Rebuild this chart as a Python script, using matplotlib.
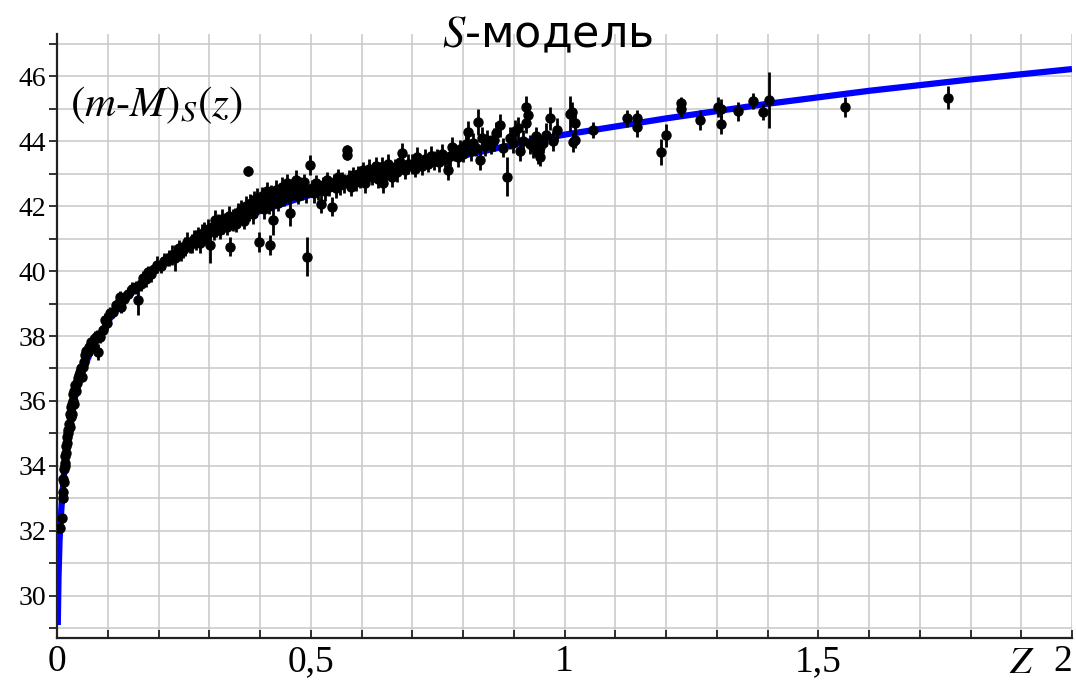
import matplotlib
matplotlib.use("Agg")
import matplotlib.pyplot as plt
import numpy as np

plt.rcParams["mathtext.fontset"] = "stix"

# model curve
curve_z = [0.0015, 0.003, 0.005, 0.007, 0.010, 0.014, 0.020, 0.027, 0.035, 0.050,
           0.070, 0.100, 0.130, 0.180, 0.240, 0.300, 0.350, 0.400, 0.450, 0.500,
           0.600, 0.700, 0.800, 0.900, 1.000, 1.200, 1.400, 1.600, 1.800, 2.000]
curve_mu = [29.1, 30.6, 31.7, 32.3, 33.0, 33.8, 34.7, 35.4, 36.1, 36.9,
            37.65, 38.45, 39.05, 39.85, 40.6, 41.15, 41.5, 41.85, 42.1, 42.35,
            42.8, 43.2, 43.55, 43.9, 44.2, 44.7, 45.15, 45.55, 45.9, 46.22]

# supernovae, low z
z_low = [0.006, 0.009, 0.011, 0.012, 0.012, 0.013, 0.014, 0.015, 0.016, 0.016,
         0.017, 0.018, 0.019, 0.020, 0.021, 0.022, 0.024, 0.025, 0.026, 0.027,
         0.028, 0.029, 0.030, 0.031, 0.032, 0.033, 0.034, 0.036, 0.037, 0.039,
         0.041, 0.043, 0.045, 0.047, 0.049, 0.051, 0.053, 0.056, 0.058, 0.061,
         0.064, 0.067, 0.071, 0.075, 0.079, 0.081, 0.085, 0.091, 0.095, 0.099]
mu_low = [32.1, 32.4, 33.0, 33.2, 33.6, 33.5, 33.9, 34.0, 34.3, 34.1,
          34.4, 34.6, 34.9, 34.7, 35.0, 35.1, 35.3, 35.2, 35.6, 35.5,
          35.8, 35.6, 35.9, 36.0, 36.2, 35.9, 36.3, 36.5, 36.3, 36.55,
          36.7, 36.8, 36.9, 37.0, 36.75, 37.05, 37.2, 37.4, 37.55, 37.5,
          37.65, 37.8, 37.75, 37.95, 38.0, 37.5, 37.97, 38.2, 38.5, 38.4]
err_low = [0.15, 0.15, 0.15, 0.15, 0.15, 0.15, 0.15, 0.15, 0.15, 0.15,
           0.15, 0.15, 0.15, 0.15, 0.15, 0.15, 0.15, 0.15, 0.15, 0.15,
           0.15, 0.15, 0.15, 0.15, 0.15, 0.15, 0.15, 0.15, 0.15, 0.15,
           0.15, 0.15, 0.15, 0.15, 0.15, 0.15, 0.15, 0.2, 0.15, 0.2,
           0.2, 0.2, 0.2, 0.2, 0.2, 0.25, 0.2, 0.2, 0.2, 0.2]

# 0.1 < z < 0.3
z_b = [0.104, 0.110, 0.116, 0.124, 0.127, 0.133, 0.140, 0.148, 0.155, 0.160,
       0.165, 0.170, 0.176, 0.180, 0.186, 0.192, 0.198, 0.204, 0.210, 0.216,
       0.221, 0.226, 0.232, 0.236, 0.240, 0.245, 0.249, 0.253, 0.257, 0.262,
       0.266, 0.270, 0.274, 0.278, 0.282, 0.286, 0.290, 0.294, 0.297, 0.301]
mu_b = [38.7, 38.75, 38.95, 39.2, 38.9, 39.15, 39.3, 39.45, 39.5, 39.1,
        39.6, 39.8, 39.75, 39.97, 39.9, 40.05, 40.2, 40.15, 40.3, 40.35,
        40.4, 40.5, 40.4, 40.55, 40.7, 40.6, 40.65, 40.75, 40.9, 40.8,
        40.85, 41.0, 40.95, 41.1, 40.86, 41.15, 41.2, 41.05, 41.3, 40.8]
err_b = [0.2, 0.2, 0.2, 0.2, 0.2, 0.2, 0.2, 0.2, 0.2, 0.45,
         0.2, 0.2, 0.25, 0.2, 0.25, 0.2, 0.25, 0.2, 0.25, 0.2,
         0.25, 0.3, 0.4, 0.25, 0.25, 0.3, 0.25, 0.3, 0.3, 0.25,
         0.3, 0.25, 0.3, 0.25, 0.3, 0.3, 0.3, 0.25, 0.3, 0.55]

# 0.3 < z < 0.5
z_c = [0.305, 0.309, 0.311, 0.314, 0.318, 0.321, 0.325, 0.328, 0.331, 0.335,
       0.338, 0.341, 0.344, 0.347, 0.350, 0.353, 0.356, 0.359, 0.362, 0.366,
       0.369, 0.372, 0.376, 0.379, 0.380, 0.383, 0.386, 0.389, 0.392, 0.395,
       0.398, 0.401, 0.404, 0.408, 0.411, 0.414, 0.418, 0.420, 0.422, 0.426,
       0.429, 0.432, 0.436, 0.440, 0.443, 0.447, 0.450, 0.454, 0.457, 0.459,
       0.462, 0.466, 0.470, 0.474, 0.478, 0.482, 0.486, 0.490, 0.493, 0.499]
mu_c = [41.35, 41.2, 41.57, 41.3, 41.45, 41.25, 41.6, 41.4, 41.5, 41.35,
        41.7, 40.75, 41.55, 41.57, 41.65, 41.45, 41.8, 41.6, 41.9, 41.7,
        41.55, 42.0, 43.09, 41.85, 42.08, 42.1, 41.75, 42.2, 41.95, 42.25,
        40.9, 42.05, 42.3, 41.9, 42.15, 42.45, 42.0, 40.8, 42.35, 41.57,
        42.2, 42.5, 42.1, 42.35, 42.6, 42.25, 42.4, 42.7, 42.3, 41.78,
        42.55, 42.45, 42.8, 42.3, 42.6, 42.5, 42.75, 42.4, 40.44, 43.26]
err_c = [0.25, 0.25, 0.3, 0.25, 0.3, 0.25, 0.3, 0.25, 0.3, 0.25,
         0.3, 0.3, 0.25, 0.35, 0.3, 0.25, 0.3, 0.25, 0.3, 0.3,
         0.25, 0.3, 0.15, 0.3, 0.3, 0.25, 0.3, 0.25, 0.3, 0.3,
         0.3, 0.25, 0.3, 0.3, 0.25, 0.3, 0.25, 0.3, 0.3, 0.45,
         0.25, 0.3, 0.25, 0.3, 0.3, 0.25, 0.3, 0.3, 0.25, 0.4,
         0.3, 0.25, 0.3, 0.25, 0.3, 0.3, 0.25, 0.3, 0.6, 0.3]

# 0.5 < z < 0.7
z_d = [0.503, 0.507, 0.511, 0.515, 0.520, 0.524, 0.528, 0.532, 0.536, 0.541,
       0.545, 0.549, 0.553, 0.558, 0.562, 0.566, 0.571, 0.571, 0.575, 0.580,
       0.584, 0.589, 0.593, 0.597, 0.602, 0.606, 0.611, 0.615, 0.620, 0.624,
       0.628, 0.632, 0.636, 0.640, 0.643, 0.648, 0.652, 0.657, 0.661, 0.666,
       0.670, 0.675, 0.679, 0.685, 0.692]
mu_d = [42.55, 42.4, 42.7, 42.5, 42.08, 42.65, 42.45, 42.8, 42.6, 41.98,
        42.75, 42.55, 42.9, 42.65, 42.8, 42.7, 43.72, 43.57, 42.85, 42.6,
        42.95, 42.75, 43.0, 42.85, 43.1, 42.7, 42.95, 43.15, 42.9, 43.05,
        43.25, 42.85, 43.1, 43.2, 42.7, 43.0, 43.3, 43.1, 42.9, 43.2,
        43.05, 43.35, 43.63, 43.1, 43.3]
err_d = [0.25, 0.3, 0.25, 0.3, 0.3, 0.25, 0.3, 0.25, 0.3, 0.3,
         0.25, 0.3, 0.25, 0.3, 0.25, 0.3, 0.15, 0.15, 0.25, 0.3,
         0.25, 0.3, 0.25, 0.3, 0.25, 0.3, 0.25, 0.3, 0.25, 0.3,
         0.25, 0.3, 0.25, 0.3, 0.3, 0.25, 0.3, 0.25, 0.3, 0.25,
         0.3, 0.25, 0.3, 0.25, 0.3]

# 0.7 < z < 0.85
z_e = [0.700, 0.705, 0.709, 0.714, 0.720, 0.725, 0.731, 0.736, 0.742, 0.748,
       0.753, 0.759, 0.764, 0.770, 0.775, 0.778, 0.784, 0.790, 0.795, 0.800,
       0.806, 0.810, 0.815, 0.820, 0.825, 0.830, 0.833, 0.838, 0.843, 0.848]
mu_e = [43.3, 43.15, 43.52, 43.35, 43.25, 43.45, 43.3, 43.55, 43.4, 43.5,
        43.35, 43.6, 43.45, 43.1, 43.55, 43.83, 43.65, 43.5, 43.75, 43.6,
        43.9, 44.28, 43.7, 43.95, 43.8, 44.59, 43.42, 44.1, 43.85, 44.05]
err_e = [0.3, 0.25, 0.3, 0.25, 0.3, 0.3, 0.25, 0.3, 0.3, 0.25,
         0.3, 0.3, 0.25, 0.3, 0.3, 0.3, 0.25, 0.3, 0.3, 0.25,
         0.3, 0.35, 0.3, 0.3, 0.25, 0.4, 0.3, 0.35, 0.3, 0.3]

# 0.85 < z < 1.06
z_f = [0.855, 0.861, 0.866, 0.873, 0.879, 0.886, 0.892, 0.898, 0.903, 0.908,
       0.913, 0.918, 0.925, 0.925, 0.928, 0.933, 0.938, 0.943, 0.948, 0.952,
       0.952, 0.958, 0.963, 0.971, 0.978, 0.985, 1.010, 1.014, 1.017, 1.021,
       1.021, 1.057]
mu_f = [43.9, 44.05, 44.24, 44.49, 43.8, 42.9, 44.1, 43.95, 44.3, 44.4,
        43.7, 44.0, 45.05, 44.55, 44.8, 43.9, 43.83, 44.15, 43.65, 43.52,
        43.83, 43.93, 44.2, 44.7, 44.0, 44.35, 44.85, 44.9, 43.98, 44.55,
        44.03, 44.34]
err_f = [0.3, 0.35, 0.35, 0.35, 0.3, 0.6, 0.35, 0.3, 0.35, 0.35,
         0.3, 0.35, 0.35, 0.3, 0.35, 0.3, 0.35, 0.3, 0.35, 0.3,
         0.35, 0.3, 0.35, 0.35, 0.3, 0.35, 0.55, 0.3, 0.3, 0.3,
         0.25, 0.25]

# high z
z_g = [1.123, 1.142, 1.142, 1.190, 1.200, 1.230, 1.230, 1.267, 1.302, 1.308,
       1.308, 1.341, 1.371, 1.391, 1.402, 1.552, 1.756]
mu_g = [44.7, 44.7, 44.44, 43.67, 44.18, 45.16, 45.0, 44.65, 45.05, 44.52,
        45.0, 44.92, 45.23, 44.9, 45.27, 45.05, 45.34]
err_g = [0.25, 0.25, 0.3, 0.4, 0.35, 0.2, 0.25, 0.3, 0.3, 0.3,
         0.3, 0.3, 0.25, 0.25, 0.85, 0.3, 0.35]

sn_z = z_low + z_b + z_c + z_d + z_e + z_f + z_g
sn_mu = mu_low + mu_b + mu_c + mu_d + mu_e + mu_f + mu_g
sn_err = err_low + err_b + err_c + err_d + err_e + err_f + err_g

x_ticks = [0, 0.5, 1, 1.5, 2]
x_labels = ["0", "0,5", "1", "1,5", "2"]
y_ticks = [30, 32, 34, 36, 38, 40, 42, 44, 46]

fig = plt.figure(figsize=(10.76, 6.84), dpi=100)
ax = fig.add_axes([57 / 1076, 46 / 684, (1072 - 57) / 1076, (650 - 46) / 684])

ax.plot(curve_z, curve_mu, color="#0000ff", lw=4.5, zorder=2, solid_capstyle="butt")
ax.errorbar(sn_z, sn_mu, yerr=sn_err, fmt="o", color="black", ms=6.5,
            elinewidth=2.0, capsize=0, zorder=3)

ax.set_xlim(0, 2)
ax.set_ylim(28.7, 47.3)
ax.set_xticks(x_ticks)
ax.set_xticklabels(x_labels)
ax.set_xticks(np.arange(0, 2.01, 0.1), minor=True)
ax.set_yticks(y_ticks)
ax.set_yticks(np.arange(29, 48, 1), minor=True)

ax.grid(True, which="both", color="#c8c8c8", lw=1.1)
ax.set_axisbelow(True)

for s in ["top", "right"]:
    ax.spines[s].set_visible(False)
for s in ["left", "bottom"]:
    ax.spines[s].set_color("#222222")
    ax.spines[s].set_linewidth(1.6)

ax.tick_params(axis="y", which="both", direction="out", length=6, width=1.3,
               color="#222222", labelsize=20, pad=2)
ax.tick_params(axis="x", which="both", direction="in", length=6, width=1.3,
               color="#222222", labelsize=27, pad=5)
for lab in ax.get_xticklabels() + ax.get_yticklabels():
    lab.set_fontfamily("Liberation Serif")
ax.get_xticklabels()[-1].set_horizontalalignment("right")

fig.text(548 / 1076, 1 - 35 / 684, r"$S$-модель", ha="center", va="center",
         fontsize=32, family="DejaVu Sans")
fig.text(70 / 1076, 1 - 105 / 684, r"$(m\text{-}M)_S(z)$", ha="left", va="center",
         fontsize=31)
fig.text(1022 / 1076, 1 - 662 / 684, r"$Z$", ha="center", va="center", fontsize=28)

fig.savefig("out.png", dpi=100)
